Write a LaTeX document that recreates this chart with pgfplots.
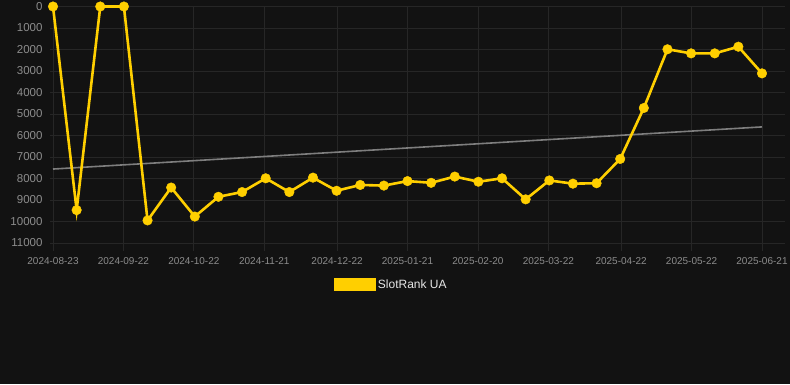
\documentclass[border=0pt]{standalone}
\usepackage{pgfplots}
\pgfplotsset{compat=1.18}
\usepackage{fontspec}
\setmainfont{Liberation Sans}
\definecolor{bgc}{HTML}{121212}
\definecolor{gridc}{HTML}{262626}
\definecolor{tickc}{HTML}{8C8C8C}
\definecolor{linec}{HTML}{FFCF00}
\definecolor{trendc}{HTML}{7E7E7E}
\definecolor{legc}{HTML}{E6E6E6}
\begin{document}
\begin{tikzpicture}[x=1pt,y=1pt]
\path[use as bounding box] (0,0) rectangle (790,384);
\fill[bgc] (0,0) rectangle (790,384);
\begin{axis}[
  at={(50pt,141pt)}, anchor=south west,
  scale only axis, width=735pt, height=236.5pt,
  xmin=-1.28, xmax=311.8,
  ymin=0, ymax=11000, y dir=reverse,
  clip=false,
  axis line style={draw=none},
  grid=major, major grid style={gridc, line width=0.8pt},
  xtick={0,30,60,90,121,151,181,211,242,272,302},
  xticklabels={2024-08-23,2024-09-22,2024-10-22,2024-11-21,2024-12-22,2025-01-21,2025-02-20,2025-03-22,2025-04-22,2025-05-22,2025-06-21},
  ytick={0,1000,...,11000},
  scaled y ticks=false,
  xtick pos=bottom, ytick pos=left,
  tick align=outside,
  x tick style={draw=gridc, line width=0.8pt}, major tick length=8pt,
  y tick style={draw=none},
  xticklabel style={font=\fontsize{10}{12}\selectfont, text=tickc, yshift=-3pt},
  yticklabel style={font=\fontsize{11.5}{13}\selectfont, text=tickc, xshift=4pt},
  /pgf/number format/assume math mode=true,
  /pgf/number format/set thousands separator={},
  legend style={at={(0.4646,-0.1755)}, anchor=center, draw=none, fill=none,
    text=legc, font=\fontsize{12}{14}\selectfont, inner sep=0pt,
    nodes={inner sep=2pt}},
  legend image code/.code={\fill[linec] (0pt,-5.5pt) rectangle (39pt,5.5pt);},
]
\addplot[trendc, line width=1.6pt, forget plot] coordinates {(0,7560) (302,5600)};
\addplot[linec, line width=2.6pt, mark=*, mark size=4.8pt, mark options={solid, fill=linec, draw=linec, line width=0.4pt}] coordinates {
(0,0) (10.067,9470) (20.133,0) (30.2,0) (40.267,9950) (50.333,8420) (60.4,9770)
(70.467,8850) (80.533,8630) (90.6,7990) (100.667,8630) (110.733,7960) (120.8,8570)
(130.867,8300) (140.933,8330) (151,8120) (161.067,8200) (171.133,7910) (181.2,8150)
(191.267,7990) (201.333,8970) (211.4,8090) (221.467,8240) (231.533,8220) (241.6,7090)
(251.667,4720) (261.733,1990) (271.8,2180) (281.867,2180) (291.933,1870) (302,3110)
};
\addlegendentry{SlotRank UA}
\end{axis}
\end{tikzpicture}
\end{document}
